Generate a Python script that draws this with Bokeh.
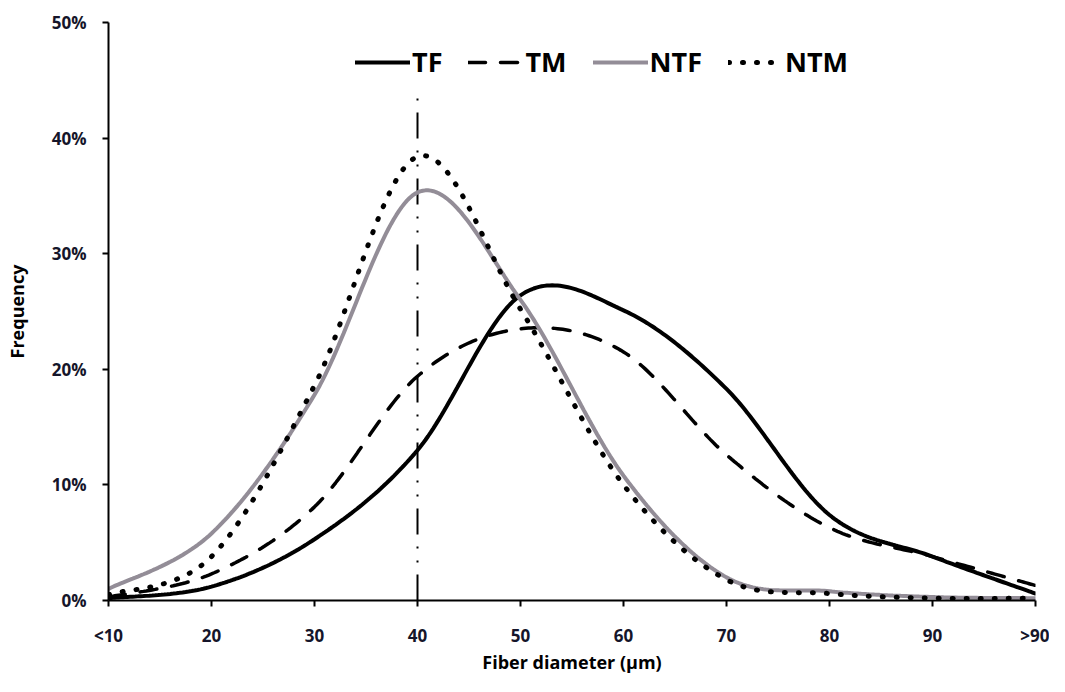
import numpy as np
from bokeh.plotting import figure
from bokeh.models import FixedTicker, NumeralTickFormatter, Legend, LegendItem
from bokeh.embed import file_html
from bokeh.resources import INLINE

# ---- data (percent) ----
categories = ["<10", "20", "30", "40", "50", "60", "70", "80", "90", ">90"]
tf = [0.2, 1.2, 5.3, 13.0, 26.4, 25.1, 18.3, 7.4, 3.8, 0.6]
tm = [0.3, 2.3, 8.1, 19.4, 23.5, 21.5, 12.6, 6.3, 3.8, 1.3]
ntf = [1.0, 5.8, 17.8, 35.3, 26.0, 10.8, 2.0, 0.8, 0.3, 0.2]
ntm = [0.5, 3.8, 18.6, 38.4, 25.2, 10.0, 1.8, 0.6, 0.2, 0.2]
y_ticks = [0, 10, 20, 30, 40, 50]
ref_category = "40"
ref_top = 44

FONT = "Open Sans"
xs = list(range(len(categories)))


def smooth(xv, yv, n=40):
    """Excel-like smoothed line (Catmull-Rom Bezier) rendered through data space."""
    P = np.column_stack([np.asarray(xv, float), np.asarray(yv, float)])
    ox, oy = [], []
    m = len(P)
    for i in range(m - 1):
        p0 = P[i - 1] if i > 0 else P[i]
        p1, p2 = P[i], P[i + 1]
        p3 = P[i + 2] if i + 2 < m else P[i + 1]
        c1 = p1 + (p2 - p0) / 6.0
        c2 = p2 - (p3 - p1) / 6.0
        t = np.linspace(0, 1, n)
        if i > 0:
            t = t[1:]
        b = ((1 - t) ** 3)[:, None] * p1 + (3 * t * (1 - t) ** 2)[:, None] * c1 \
            + (3 * t ** 2 * (1 - t))[:, None] * c2 + (t ** 3)[:, None] * p2
        ox.extend(b[:, 0].tolist())
        oy.extend((b[:, 1] / 100.0).tolist())
    return ox, oy


p = figure(width=1049, height=676, output_backend="svg", toolbar_location=None,
           x_range=(0, len(categories) - 1), y_range=(0, y_ticks[-1] / 100.0),
           min_border_left=108, min_border_right=14, min_border_top=22,
           min_border_bottom=70)
p.outline_line_color = None
p.xgrid.grid_line_color = None
p.ygrid.grid_line_color = None
p.background_fill_color = "white"

# reference vertical line at 40
rx = categories.index(ref_category)
p.segment(x0=[rx], y0=[0], x1=[rx], y1=[ref_top / 100.0], line_color="black",
          line_width=2, line_dash="26 12 2 12 2 12")

sx, sy = smooth(xs, tf)
r_tf = p.line(sx, sy, line_color="black", line_width=4, line_cap="round")
sx, sy = smooth(xs, tm)
r_tm = p.line(sx, sy, line_color="black", line_width=3.5, line_dash="17 15",
              line_cap="round")
sx, sy = smooth(xs, ntf)
r_ntf = p.line(sx, sy, line_color="#938d97", line_width=4, line_cap="round")
sx, sy = smooth(xs, ntm)
r_ntm = p.line(sx, sy, line_color="black", line_width=5, line_dash="1 13",
               line_cap="round")

legend = Legend(items=[LegendItem(label="TF", renderers=[r_tf]),
                       LegendItem(label="TM", renderers=[r_tm]),
                       LegendItem(label="NTF", renderers=[r_ntf]),
                       LegendItem(label="NTM", renderers=[r_ntm])],
                orientation="horizontal", location=(247, 520),
                glyph_width=55, glyph_height=30, label_standoff=2, spacing=26,
                padding=0, margin=0, border_line_alpha=0,
                background_fill_alpha=0,
                label_text_font=FONT, label_text_font_style="bold",
                label_text_font_size="27px", label_text_color="black")
p.add_layout(legend)

# axes
p.xaxis.ticker = FixedTicker(ticks=xs)
p.xaxis.major_label_overrides = {i: c for i, c in enumerate(categories)}
p.yaxis.ticker = FixedTicker(ticks=[v / 100.0 for v in y_ticks])
p.yaxis.formatter = NumeralTickFormatter(format="0%")

for ax in (p.xaxis[0], p.yaxis[0]):
    ax.axis_line_color = "black"
    ax.axis_line_width = 2
    ax.major_tick_line_color = "black"
    ax.major_tick_line_width = 2
    ax.major_tick_in = 0
    ax.major_tick_out = 6
    ax.minor_tick_line_color = None
    ax.major_label_text_font = FONT
    ax.major_label_text_font_style = "bold"
    ax.major_label_text_font_size = "17px"
    ax.major_label_text_color = "#15152a"
    ax.axis_label_text_font = FONT
    ax.axis_label_text_font_style = "bold"
    ax.axis_label_text_font_size = "18px"
    ax.axis_label_text_color = "black"

p.xaxis.axis_label = "Fiber diameter (µm)"
p.yaxis.axis_label = "Frequency"
p.xaxis.major_label_standoff = 17
p.xaxis.axis_label_standoff = 0
p.yaxis.major_label_standoff = 16
p.yaxis.axis_label_standoff = 20

open("out.html", "w").write(file_html(p, INLINE))
